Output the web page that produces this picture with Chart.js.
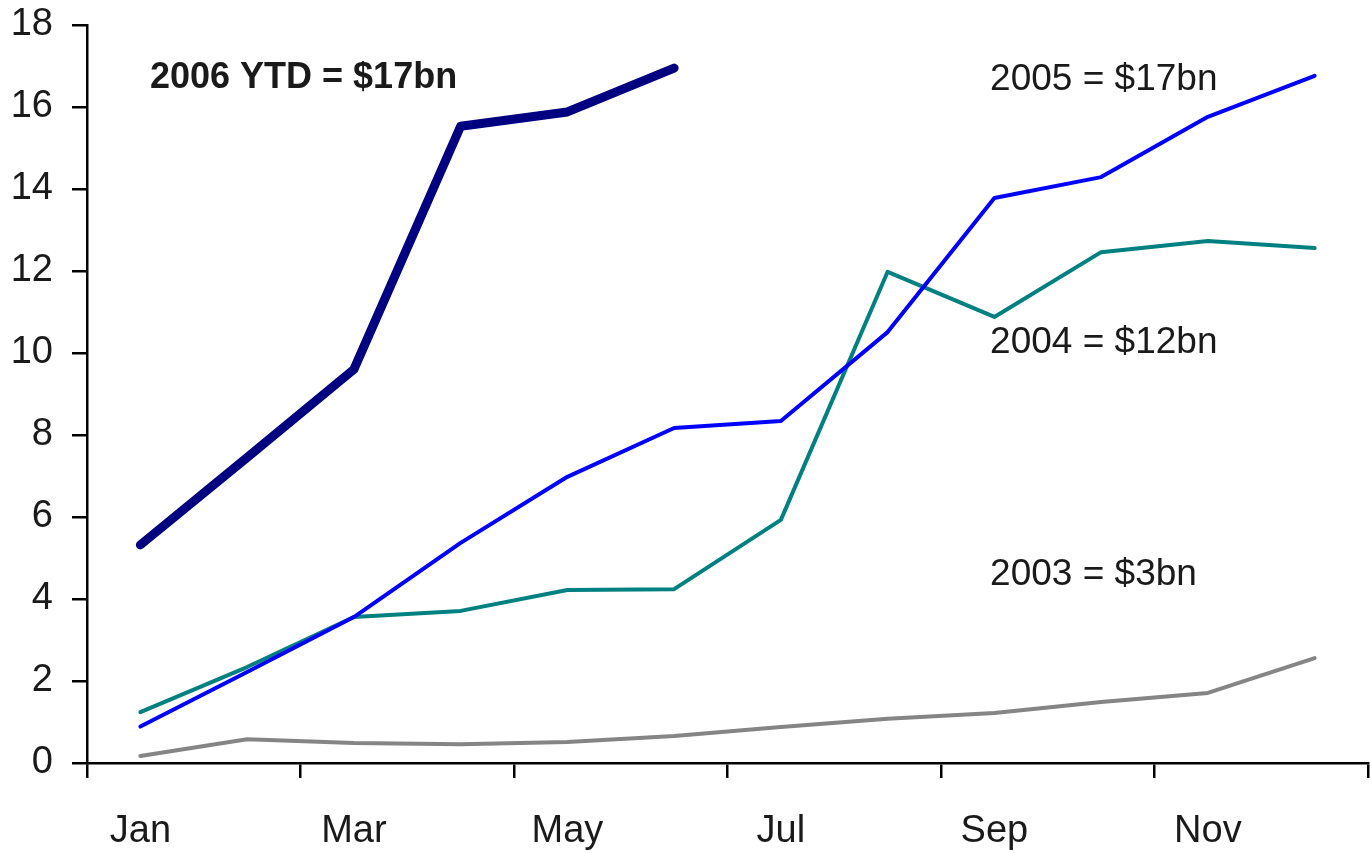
<!DOCTYPE html>
<html>
<head>
<meta charset="utf-8">
<script src="https://cdn.jsdelivr.net/npm/chart.js@4.4.1/dist/chart.umd.min.js"></script>
<style>
  html, body { margin: 0; padding: 0; background: #fff; }
  #wrap { width: 1371px; height: 853px; position: relative; }
</style>
</head>
<body>
<div id="wrap"><canvas id="chart"></canvas></div>
<script>
// data ($bn, cumulative)
const months = ['Jan', 'Feb', 'Mar', 'Apr', 'May', 'Jun', 'Jul', 'Aug', 'Sep', 'Oct', 'Nov', 'Dec'];
const labelledMonths = ['Jan', 'Mar', 'May', 'Jul', 'Sep', 'Nov'];
const yTickValues = [0, 2, 4, 6, 8, 10, 12, 14, 16, 18];

const y2006 = [5.32, 7.45, 9.6, 15.53, 15.88, 16.95];
const y2005 = [0.89, 2.22, 3.56, 5.37, 6.98, 8.17, 8.34, 10.51, 13.78, 14.29, 15.76, 16.76];
const y2004 = [1.24, 2.34, 3.56, 3.71, 4.22, 4.24, 5.93, 11.98, 10.88, 12.46, 12.73, 12.56];
const y2003 = [0.17, 0.58, 0.49, 0.46, 0.51, 0.66, 0.88, 1.08, 1.22, 1.49, 1.71, 2.56];

const FONT = '"Liberation Sans", Arial, sans-serif';

// text notes next to the lines, anchored in data units
const notesPlugin = {
  id: 'notes',
  afterDatasetsDraw(chart, args, opts) {
    const { ctx, scales: { x, y } } = chart;
    ctx.save();
    ctx.fillStyle = '#1a1a1a';
    ctx.textAlign = 'left';
    ctx.textBaseline = 'middle';
    opts.items.forEach(n => {
      ctx.font = (n.bold ? 'bold ' : '') + n.size + 'px ' + FONT;
      ctx.fillText(n.text, x.getPixelForValue(n.month), y.getPixelForValue(n.value));
    });
    ctx.restore();
  }
};

function lineSet(label, data, color, width) {
  return {
    label: label,
    data: data,
    borderColor: color,
    backgroundColor: color,
    borderWidth: width,
    pointRadius: 0,
    tension: 0,
    borderJoinStyle: 'round',
    borderCapStyle: 'round',
    fill: false
  };
}

new Chart(document.getElementById('chart'), {
  type: 'line',
  data: {
    labels: months,
    datasets: [
      lineSet('2006', y2006, '#000080', 9),
      lineSet('2005', y2005, '#0000ff', 4),
      lineSet('2004', y2004, '#008080', 4),
      lineSet('2003', y2003, '#858585', 4)
    ]
  },
  options: {
    responsive: true,
    maintainAspectRatio: false,
    animation: false,
    layout: { padding: { left: 0, right: 3, top: 0, bottom: 0 } },
    plugins: {
      legend: { display: false },
      tooltip: { enabled: false },
      notes: {
        items: [
          { text: '2006 YTD = $17bn', month: 0.09, value: 16.7, bold: true, size: 36 },
          { text: '2005 = $17bn', month: 7.96, value: 16.66, size: 37 },
          { text: '2004 = $12bn', month: 7.96, value: 10.24, size: 37 },
          { text: '2003 = $3bn', month: 7.96, value: 4.59, size: 37 }
        ]
      }
    },
    scales: {
      x: {
        offset: true,
        afterFit: s => { s.height = 90; },
        border: { display: true, color: '#000', width: 2.5 },
        grid: {
          offset: true,
          drawOnChartArea: false,
          drawTicks: true,
          tickLength: 15,
          lineWidth: 2.5,
          color: c => (c.type !== 'tick' || c.index % 2 === 0) ? '#000' : 'rgba(0,0,0,0)'
        },
        ticks: {
          autoSkip: false,
          maxRotation: 0,
          padding: 31,
          color: '#1a1a1a',
          font: { family: FONT, size: 38 },
          callback: function (v, i) {
            return labelledMonths.includes(months[i]) ? months[i] : '';
          }
        }
      },
      y: {
        min: 0,
        max: 18,
        afterBuildTicks: s => { s.ticks = yTickValues.map(v => ({ value: v })); },
        afterFit: s => { s.width = 87; s.paddingTop = 25; },
        border: { display: true, color: '#000', width: 2.5 },
        grid: {
          drawOnChartArea: false,
          drawTicks: true,
          tickLength: 15,
          lineWidth: 2.5,
          color: '#000'
        },
        ticks: {
          padding: 19,
          color: '#1a1a1a',
          font: { family: FONT, size: 38 }
        }
      }
    }
  },
  plugins: [notesPlugin]
});
</script>
</body>
</html>
